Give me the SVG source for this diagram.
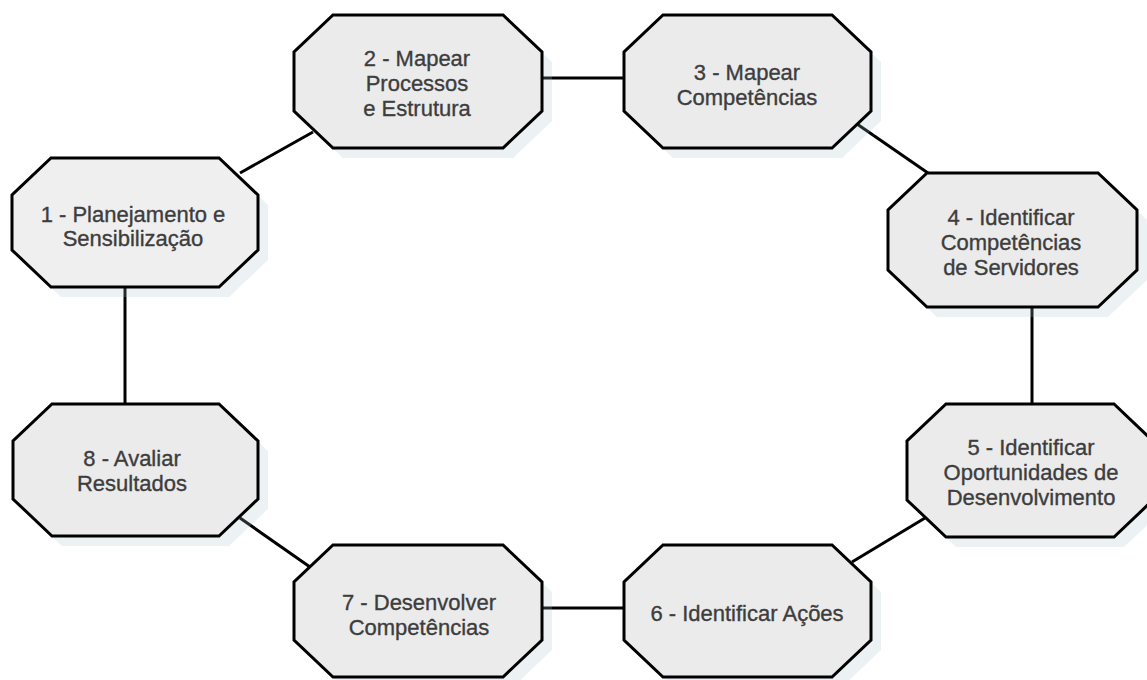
<svg xmlns="http://www.w3.org/2000/svg" width="1147" height="680" viewBox="0 0 1147 680">
<style>
.bg{fill:#ffffff}
.sh{fill:#a8c0cc;fill-opacity:0.22}
.oct{fill:#ebebeb;stroke:#000;stroke-width:3;stroke-linejoin:miter}
.lbl{font-family:"Liberation Sans",Arial,sans-serif;font-size:22px;fill:#3d3d3d;stroke:#3d3d3d;stroke-width:0.35;text-anchor:middle}
.conn line{stroke:#000;stroke-width:3}
</style>
<rect class="bg" x="0" y="0" width="1147" height="680"/>
<g id="connectors" class="conn">
<line x1="240" y1="173" x2="313" y2="132"/>
<line x1="542" y1="78" x2="624" y2="78"/>
<line x1="857" y1="124" x2="928" y2="173"/>
<line x1="1032" y1="307" x2="1032" y2="404"/>
<line x1="852" y1="562" x2="925" y2="518"/>
<line x1="542" y1="608" x2="624" y2="608"/>
<line x1="240" y1="518" x2="310" y2="567"/>
<line x1="125" y1="287" x2="125" y2="404"/>
</g>
<g id="node1">
<polygon class="sh" transform="translate(10,10)" points="51,158 219,158 258,195 258,250 219,287 51,287 12,250 12,195"/>
<polygon class="oct" style="fill:#efefef" points="51,158 219,158 258,195 258,250 219,287 51,287 12,250 12,195"/>
<text class="lbl" x="133" y="222">1 - Planejamento e</text>
<text class="lbl" x="133" y="246">Sensibilização</text>
</g>
<g id="node2">
<polygon class="sh" transform="translate(10,10)" points="333,15 503,15 542,52 542,111 503,148 333,148 294,111 294,52"/>
<polygon class="oct" points="333,15 503,15 542,52 542,111 503,148 333,148 294,111 294,52"/>
<text class="lbl" x="417" y="66">2 - Mapear</text>
<text class="lbl" x="417" y="91">Processos</text>
<text class="lbl" x="417" y="116">e Estrutura</text>
</g>
<g id="node3">
<polygon class="sh" transform="translate(10,10)" points="663,15 832,15 871,52 871,111 832,148 663,148 624,111 624,52"/>
<polygon class="oct" points="663,15 832,15 871,52 871,111 832,148 663,148 624,111 624,52"/>
<text class="lbl" x="747" y="80">3 - Mapear</text>
<text class="lbl" x="747" y="105">Competências</text>
</g>
<g id="node4">
<polygon class="sh" transform="translate(10,10)" points="927,173 1098,173 1137,210 1137,270 1098,307 927,307 888,270 888,210"/>
<polygon class="oct" points="927,173 1098,173 1137,210 1137,270 1098,307 927,307 888,270 888,210"/>
<text class="lbl" x="1011" y="225">4 - Identificar</text>
<text class="lbl" x="1011" y="250">Competências</text>
<text class="lbl" x="1011" y="275">de Servidores</text>
</g>
<g id="node5">
<polygon class="sh" transform="translate(10,10)" points="946,404 1114,404 1153,441 1153,500 1114,537 946,537 907,500 907,441"/>
<polygon class="oct" points="946,404 1114,404 1153,441 1153,500 1114,537 946,537 907,500 907,441"/>
<text class="lbl" x="1031" y="455">5 - Identificar</text>
<text class="lbl" x="1031" y="480">Oportunidades de</text>
<text class="lbl" x="1031" y="505">Desenvolvimento</text>
</g>
<g id="node6">
<polygon class="sh" transform="translate(10,10)" points="663,545 832,545 871,582 871,640 832,677 663,677 624,640 624,582"/>
<polygon class="oct" points="663,545 832,545 871,582 871,640 832,677 663,677 624,640 624,582"/>
<text class="lbl" x="747" y="621">6 - Identificar Ações</text>
</g>
<g id="node7">
<polygon class="sh" transform="translate(10,10)" points="333,545 503,545 542,582 542,640 503,677 333,677 294,640 294,582"/>
<polygon class="oct" points="333,545 503,545 542,582 542,640 503,677 333,677 294,640 294,582"/>
<text class="lbl" x="419" y="610">7 - Desenvolver</text>
<text class="lbl" x="419" y="635">Competências</text>
</g>
<g id="node8">
<polygon class="sh" transform="translate(10,10)" points="52,404 219,404 258,441 258,499 219,536 52,536 13,499 13,441"/>
<polygon class="oct" points="52,404 219,404 258,441 258,499 219,536 52,536 13,499 13,441"/>
<text class="lbl" x="132" y="466">8 - Avaliar</text>
<text class="lbl" x="132" y="491">Resultados</text>
</g>
</svg>
